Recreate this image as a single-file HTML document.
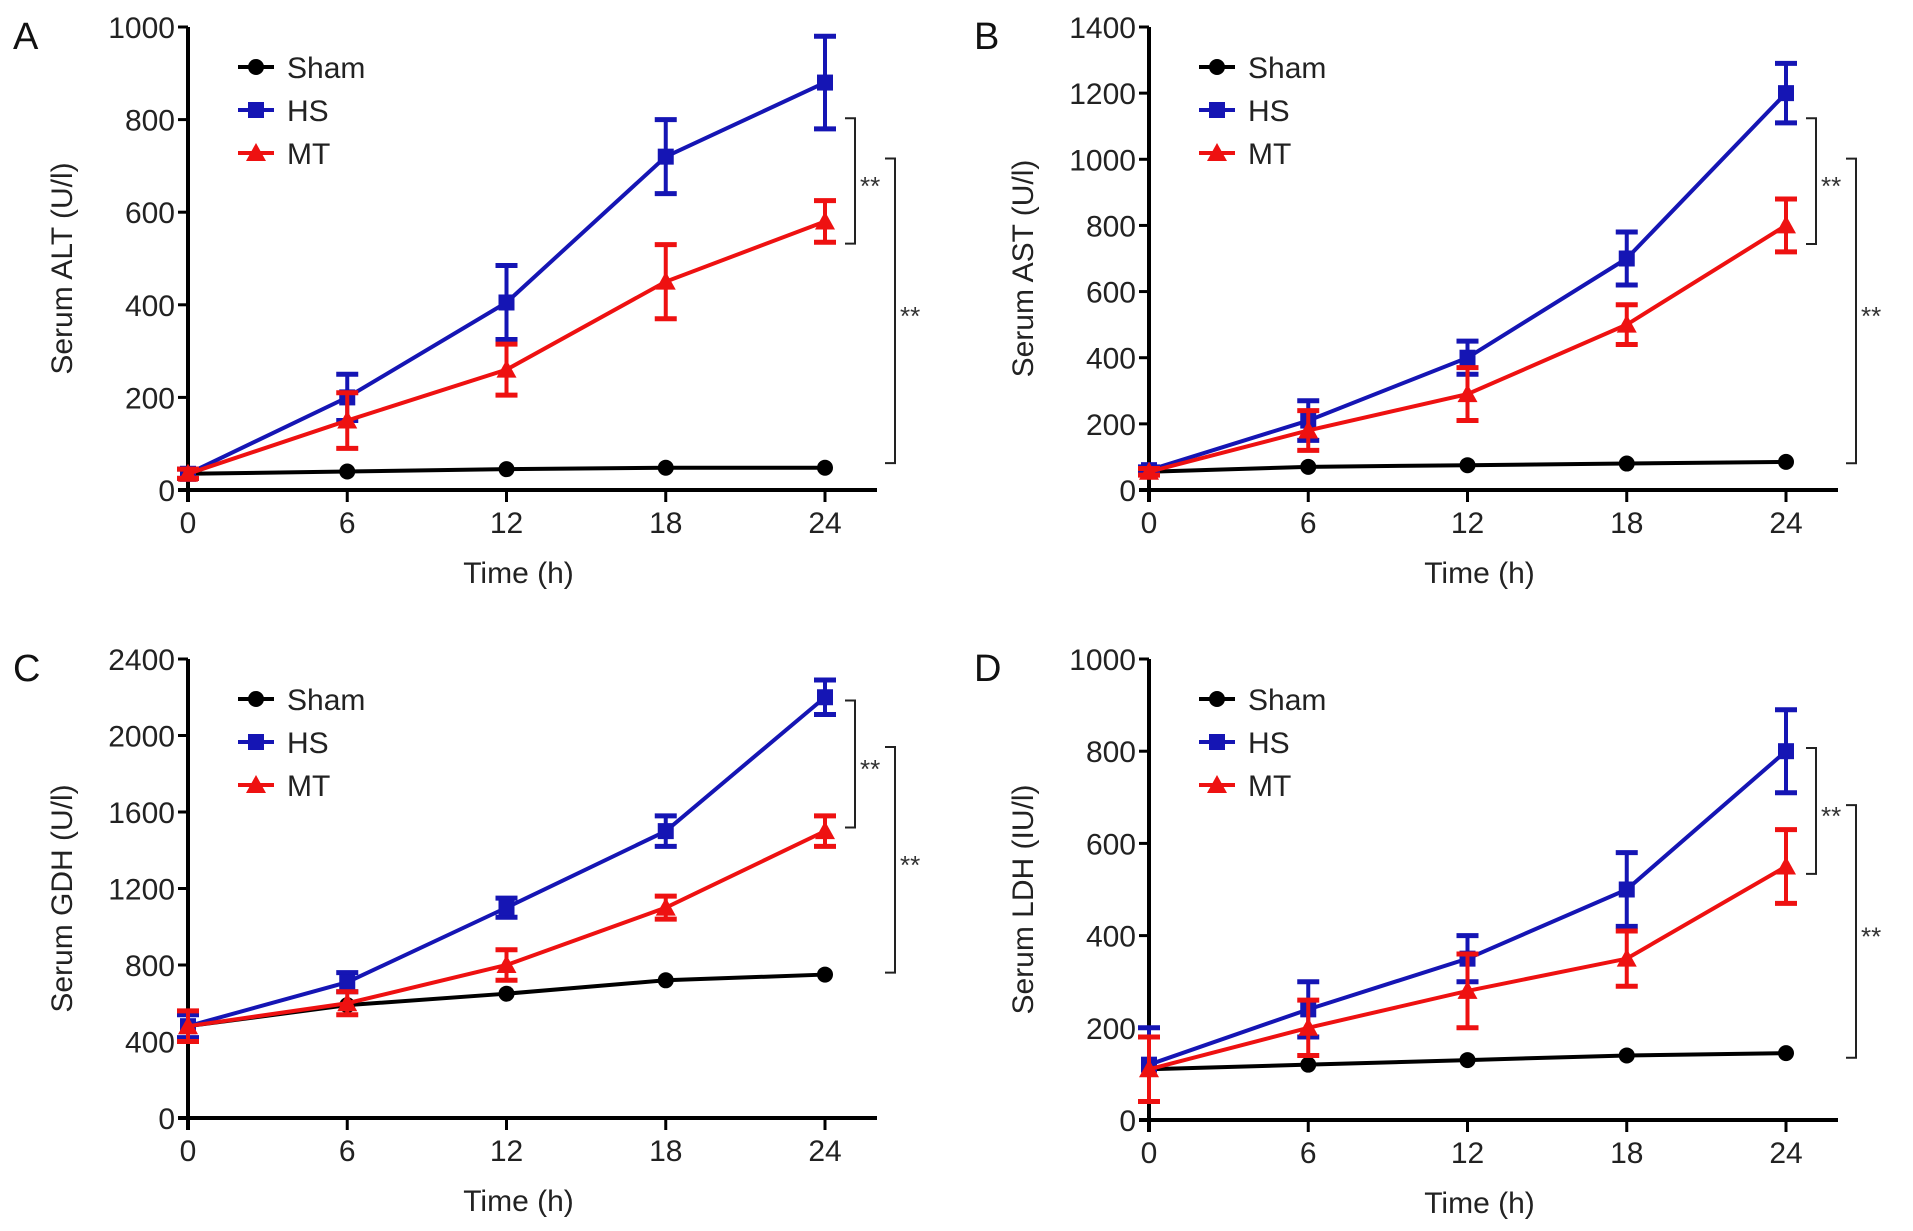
<!DOCTYPE html>
<html><head><meta charset="utf-8"><style>
html,body{margin:0;padding:0;background:#fff;}
svg{display:block;font-family:"Liberation Sans",sans-serif;}
</style></head><body>
<svg id="chart" width="1913" height="1231" viewBox="0 0 1913 1231" xmlns="http://www.w3.org/2000/svg"></svg>
<script>
const categories = [0, 6, 12, 18, 24];
// Panel A - ALT
const altSham = [35, 40, 45, 48, 48];
const altHS = [35, 200, 405, 720, 880];
const altHSErr = [10, 50, 80, 80, 100];
const altMT = [35, 150, 260, 450, 580];
const altMTErr = [10, 60, 55, 80, 45];
const altTicks = [0, 200, 400, 600, 800, 1000];
const altBrackets = [[803, 532], [716, 58]];
// Panel B - AST
const astSham = [55, 70, 75, 80, 85];
const astHS = [60, 210, 400, 700, 1200];
const astHSErr = [10, 60, 50, 80, 90];
const astMT = [55, 180, 290, 500, 800];
const astMTErr = [10, 60, 80, 60, 80];
const astTicks = [0, 200, 400, 600, 800, 1000, 1200, 1400];
const astBrackets = [[1124, 744], [1002, 81]];
// Panel C - GDH
const gdhSham = [480, 590, 650, 720, 750];
const gdhHS = [480, 710, 1100, 1500, 2200];
const gdhHSErr = [60, 50, 50, 80, 90];
const gdhMT = [480, 600, 800, 1100, 1500];
const gdhMTErr = [80, 60, 80, 60, 80];
const gdhTicks = [0, 400, 800, 1200, 1600, 2000, 2400];
const gdhBrackets = [[2183, 1519], [1940, 760]];
// Panel D - LDH
const ldhSham = [110, 120, 130, 140, 145];
const ldhHS = [120, 240, 350, 500, 800];
const ldhHSErr = [80, 60, 50, 80, 90];
const ldhMT = [110, 200, 280, 350, 550];
const ldhMTErr = [70, 60, 80, 60, 80];
const ldhTicks = [0, 200, 400, 600, 800, 1000];
const ldhBrackets = [[807, 534], [683, 135]];

const NS = "http://www.w3.org/2000/svg";
const svg = document.getElementById('chart');
function mk(tag, attrs, parent){const e=document.createElementNS(NS,tag);for(const k in attrs)e.setAttribute(k,attrs[k]);(parent||svg).appendChild(e);return e;}

const panels = [
 {id:'a',letter:'A',x0:188,x1:825,y0:490,yTop:27,max:1000,title:'Serum ALT (U/l)',sham:altSham,hs:altHS,hsE:altHSErr,mt:altMT,mtE:altMTErr,ticks:altTicks,br:altBrackets},
 {id:'b',letter:'B',x0:1149,x1:1786,y0:490,yTop:27,max:1400,title:'Serum AST (U/l)',sham:astSham,hs:astHS,hsE:astHSErr,mt:astMT,mtE:astMTErr,ticks:astTicks,br:astBrackets},
 {id:'c',letter:'C',x0:188,x1:825,y0:1118,yTop:659,max:2400,title:'Serum GDH (U/l)',sham:gdhSham,hs:gdhHS,hsE:gdhHSErr,mt:gdhMT,mtE:gdhMTErr,ticks:gdhTicks,br:gdhBrackets},
 {id:'d',letter:'D',x0:1149,x1:1786,y0:1120,yTop:659,max:1000,title:'Serum LDH (IU/l)',sham:ldhSham,hs:ldhHS,hsE:ldhHSErr,mt:ldhMT,mtE:ldhMTErr,ticks:ldhTicks,br:ldhBrackets}
];

function marker(g,type,x,y,color){
  let m;
  if(type==='circle') m=mk('circle',{cx:x,cy:y,r:8,fill:color},g);
  else if(type==='square') m=mk('rect',{x:x-8,y:y-8,width:16,height:16,fill:color},g);
  else m=mk('polygon',{points:`${x},${y-10} ${x+10},${y+8} ${x-10},${y+8}`,fill:color},g);
  return m;
}

panels.forEach(p=>{
  const g=mk('g',{});
  
  
  const xs=v=>p.x0+(v-categories[0])/(categories[categories.length-1]-categories[0])*(p.x1-p.x0);
  const ys=v=>p.y0-v/p.max*(p.y0-p.yTop);
  const lt=mk('text',{x:p.x0-175,y:p.yTop+22,'font-size':38,fill:'#111'},g);lt.textContent=p.letter;
  
  const ya=mk('line',{x1:p.x0,y1:p.yTop,x2:p.x0,y2:p.y0+12,stroke:'#000','stroke-width':4},g);
  
  const xa=mk('line',{x1:p.x0-10,y1:p.y0,x2:p.x1+52,y2:p.y0,stroke:'#000','stroke-width':4},g);
  
  p.ticks.forEach(t=>{
    mk('line',{x1:p.x0-10,y1:ys(t),x2:p.x0,y2:ys(t),stroke:'#000','stroke-width':3},g);
    const tx=mk('text',{x:p.x0-13,y:ys(t)+11,'font-size':30,'text-anchor':'end',fill:'#222'},g);
    tx.textContent=t;
    
  });
  categories.forEach(c=>{
    mk('line',{x1:xs(c),y1:p.y0,x2:xs(c),y2:p.y0+12,stroke:'#000','stroke-width':3},g);
    const tx=mk('text',{x:xs(c),y:p.y0+43,'font-size':30,'text-anchor':'middle',fill:'#222'},g);
    tx.textContent=c;
    
  });
  const xt=mk('text',{x:(p.x0+p.x1)/2+12,y:p.y0+93,'font-size':30,'text-anchor':'middle',fill:'#222'},g);
  xt.textContent='Time (h)';
  
  const ymid=(p.y0+p.yTop)/2+10;
  const yt=mk('text',{x:0,y:0,'font-size':30,'text-anchor':'middle',fill:'#222',transform:`translate(${p.x0-116},${ymid}) rotate(-90)`},g);
  yt.textContent=p.title;
  
  const series=[
    {name:'sham',vals:p.sham,err:null,color:'#000',m:'circle'},
    {name:'hs',vals:p.hs,err:p.hsE,color:'#1515b4',m:'square'},
    {name:'mt',vals:p.mt,err:p.mtE,color:'#ee1111',m:'triangle'}
  ];
  series.forEach(s=>{
    const sg=mk('g',{},g);
    
    
    const pl=mk('polyline',{points:s.vals.map((v,i)=>xs(categories[i])+','+ys(v)).join(' '),fill:'none',stroke:s.color,'stroke-width':4},sg);
    
    s.vals.forEach((v,i)=>{
      const x=xs(categories[i]);
      if(s.err){
        const hi=ys(v+s.err[i]),lo=ys(Math.max(0,v-s.err[i]));
        mk('line',{x1:x,y1:hi,x2:x,y2:lo,stroke:s.color,'stroke-width':4},sg);
        mk('line',{x1:x-11,y1:hi,x2:x+11,y2:hi,stroke:s.color,'stroke-width':5},sg);
        mk('line',{x1:x-11,y1:lo,x2:x+11,y2:lo,stroke:s.color,'stroke-width':5},sg);
      }
      const m=marker(sg,s.m,x,ys(v),s.color);
      
    });
  });
  p.br.forEach((b,i)=>{
    const bx=p.x1+(i===0?30:70);
    const bg=mk('g',{},g);
    
    
    mk('polyline',{points:`${bx-10},${ys(b[0])} ${bx},${ys(b[0])} ${bx},${ys(b[1])} ${bx-10},${ys(b[1])}`,fill:'none',stroke:'#222','stroke-width':2},bg);
    const st=mk('text',{x:bx+5,y:(ys(b[0])+ys(b[1]))/2+14,'font-size':26,fill:'#333'},bg);
    st.textContent='**';
  });
  const lg=mk('g',{},g);
  
  const names=['Sham','HS','MT'];
  series.forEach((s,i)=>{
    const ly=p.yTop+40+i*43;
    const eg=mk('g',{},lg);
    
    mk('line',{x1:p.x0+50,y1:ly,x2:p.x0+86,y2:ly,stroke:s.color,'stroke-width':4},eg);
    marker(eg,s.m,p.x0+68,ly,s.color);
    const t=mk('text',{x:p.x0+99,y:ly+11,'font-size':30,fill:'#222'},eg);
    t.textContent=names[i];
  });
});
</script>
</body></html>
